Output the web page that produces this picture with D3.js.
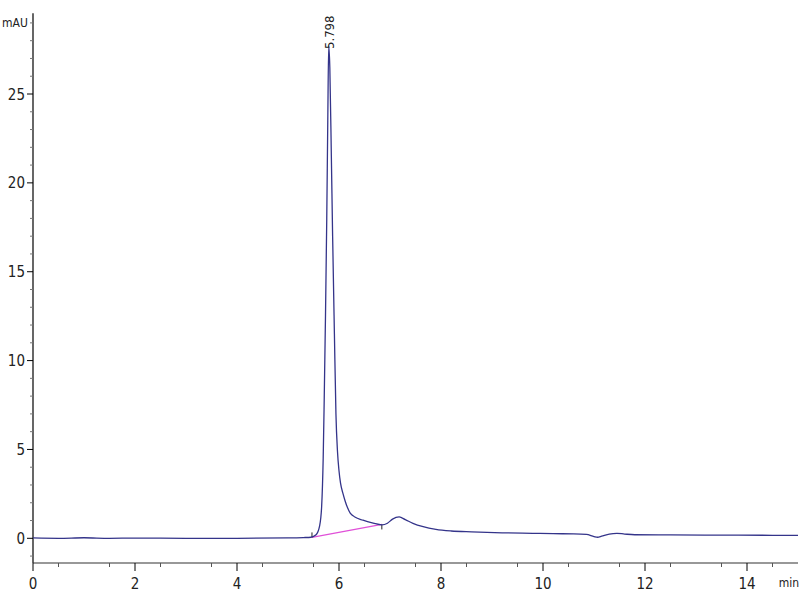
<!DOCTYPE html>
<html>
<head>
<meta charset="utf-8"/>
<title>chromatogram</title>
<script src="https://cdn.jsdelivr.net/npm/d3@7"></script>
<style>
body { margin:0; background:#fff; }
text { font-family: "DejaVu Sans", "Liberation Sans", sans-serif; font-stretch: condensed; }
</style>
</head>
<body>
<script>
// retention time (min) and signal (mAU)
var times = [0, 0.5, 1.0, 1.5, 2.0, 3.0, 4.0, 5.0, 5.3, 5.45, 5.55, 5.62, 5.66, 5.69, 5.71, 5.735, 5.76, 5.78, 5.798,
  5.82, 5.85, 5.875, 5.91, 5.94, 5.97, 6.0, 6.03, 6.08, 6.12, 6.17, 6.22, 6.31, 6.47, 6.67, 6.84, 6.95, 7.05, 7.18,
  7.3, 7.45, 7.65, 7.9, 8.2, 8.6, 9.2, 9.8, 10.2, 10.6, 10.85, 11.0, 11.07, 11.15, 11.3, 11.45, 11.6, 11.8, 12.5,
  13.5, 14.5, 15.0];
var signal = [0.02, 0.0, 0.03, 0.0, 0.01, 0.0, 0.0, 0.02, 0.04, 0.06, 0.2, 0.7, 1.8, 4.5, 7.8, 12.5, 18.0, 23.5, 27.7,
  26.5, 21.5, 17.0, 11.5, 7.0, 4.9, 3.8, 3.1, 2.5, 2.1, 1.7, 1.42, 1.2, 1.02, 0.86, 0.76, 0.85, 1.08, 1.2,
  1.05, 0.84, 0.65, 0.5, 0.41, 0.36, 0.31, 0.28, 0.26, 0.25, 0.22, 0.1, 0.06, 0.12, 0.24, 0.28, 0.24, 0.2, 0.19,
  0.18, 0.17, 0.16];

// integration baseline of the main peak
var baseT = [5.47, 6.84];
var baseV = [0.05, 0.78];

var peakTime = 5.798;
var peakHeight = 27.7;

var xTicks = [0, 2, 4, 6, 8, 10, 12, 14];
var yTicks = [0, 5, 10, 15, 20, 25];

var width = 800;
var height = 600;

var svg = d3.select("body")
  .append("svg")
  .attr("width", width)
  .attr("height", height);

var x = d3.scaleLinear().domain([0, 15]).range([33, 798]);
var y = d3.scaleLinear().domain([0, 25]).range([538.3, 94]);

var xAxisY = 563;
var yTop = y(29.55);

// y axis line
svg.append("line")
  .attr("x1", 33).attr("x2", 33)
  .attr("y1", yTop).attr("y2", xAxisY)
  .style("stroke", "#000")
  .style("stroke-width", 1.2);

// x axis line
svg.append("line")
  .attr("x1", 33).attr("x2", 798)
  .attr("y1", xAxisY).attr("y2", xAxisY)
  .style("stroke", "#333")
  .style("stroke-width", 1.2);

// minor y ticks every 1 mAU
var yMinor = d3.range(-1, 30).filter(function(d){ return d % 5 != 0; });
svg.selectAll(".ymin").data(yMinor).enter()
  .append("line")
  .attr("x1", 30).attr("x2", 33)
  .attr("y1", function(d){ return y(d); })
  .attr("y2", function(d){ return y(d); })
  .style("stroke", "#777");

svg.selectAll(".ymaj").data(yTicks).enter()
  .append("line")
  .attr("x1", 27).attr("x2", 33)
  .attr("y1", function(d){ return y(d); })
  .attr("y2", function(d){ return y(d); })
  .style("stroke", "#000");

svg.selectAll(".ylab").data(yTicks).enter()
  .append("text")
  .attr("x", 25)
  .attr("y", function(d){ return y(d) + 5.5; })
  .attr("text-anchor", "end")
  .style("font-size", "15px")
  .style("fill", "#222")
  .text(function(d){ return d; });

svg.append("text")
  .attr("x", 2)
  .attr("y", y(29) + 4)
  .style("font-size", "12px")
  .style("fill", "#222")
  .text("mAU");

// x ticks, minor every 0.5 min
var xMinor = d3.range(1, 30, 2).map(function(d){ return d / 2; });
svg.selectAll(".xmin").data(xMinor).enter()
  .append("line")
  .attr("x1", function(d){ return x(d); })
  .attr("x2", function(d){ return x(d); })
  .attr("y1", xAxisY).attr("y2", xAxisY + 4)
  .style("stroke", "#555");

svg.selectAll(".xmaj").data(xTicks).enter()
  .append("line")
  .attr("x1", function(d){ return x(d); })
  .attr("x2", function(d){ return x(d); })
  .attr("y1", xAxisY).attr("y2", xAxisY + 8)
  .style("stroke", "#000");

svg.selectAll(".xlab").data(xTicks).enter()
  .append("text")
  .attr("x", function(d){ return x(d); })
  .attr("y", 589)
  .attr("text-anchor", "middle")
  .style("font-size", "15px")
  .style("fill", "#222")
  .text(function(d){ return d; });

svg.append("text")
  .attr("x", 799)
  .attr("y", 587)
  .attr("text-anchor", "end")
  .style("font-size", "12px")
  .style("fill", "#222")
  .text("min");

// baseline drawn under the trace
svg.append("line")
  .attr("x1", x(baseT[0])).attr("y1", y(baseV[0]))
  .attr("x2", x(baseT[1])).attr("y2", y(baseV[1]))
  .style("stroke", "#e050d8")
  .style("stroke-width", 1.3);

svg.append("line")
  .attr("x1", x(baseT[0])).attr("x2", x(baseT[0]))
  .attr("y1", y(baseV[0]) - 5).attr("y2", y(baseV[0]))
  .style("stroke", "#222");
svg.append("line")
  .attr("x1", x(baseT[1])).attr("x2", x(baseT[1]))
  .attr("y1", y(baseV[1])).attr("y2", y(baseV[1]) + 5)
  .style("stroke", "#222");

var pts = times.map(function(t, i){ return [t, signal[i]]; });
var line = d3.line()
  .x(function(d){ return x(d[0]); })
  .y(function(d){ return y(d[1]); })
  .curve(d3.curveMonotoneX);

svg.append("path")
  .datum(pts)
  .attr("d", line)
  .style("fill", "none")
  .style("stroke", "#34348a")
  .style("stroke-width", 1.3);

// peak label
svg.append("text")
  .attr("transform", "translate(" + (x(peakTime) + 1.5) + "," + (y(peakHeight) + 3) + ") rotate(-90)")
  .attr("dominant-baseline", "middle")
  .style("font-size", "13px")
  .style("fill", "#222")
  .text(peakTime.toFixed(3));
</script>
</body>
</html>
